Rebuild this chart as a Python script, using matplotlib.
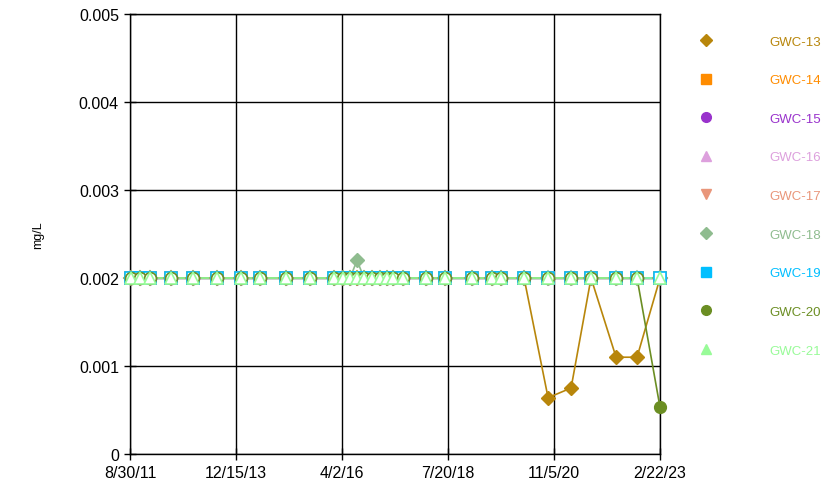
import matplotlib
matplotlib.use("Agg")
import matplotlib.pyplot as plt
from matplotlib.lines import Line2D
import pandas as pd

plt.rcParams['font.family'] = ['Liberation Sans', 'DejaVu Sans']

dates = pd.to_datetime([
    '2011-09-07', '2011-11-17', '2012-02-04', '2012-07-19', '2013-01-10',
    '2013-07-18', '2014-01-24', '2014-06-24', '2015-01-15', '2015-07-24',
    '2016-01-30', '2016-04-10', '2016-06-05', '2016-07-30', '2016-09-24',
    '2016-11-26', '2017-01-28', '2017-03-25', '2017-05-11', '2017-07-29',
    '2018-01-27', '2018-06-27', '2019-01-26', '2019-07-04', '2019-09-13',
    '2020-03-13', '2020-09-19', '2021-03-20', '2021-08-25', '2022-03-11',
    '2022-08-24', '2023-02-22',
])
n = len(dates)
nd = 0.002  # reporting limit (non-detect)

wells = ['GWC-13', 'GWC-14', 'GWC-15', 'GWC-16', 'GWC-17',
         'GWC-18', 'GWC-19', 'GWC-20', 'GWC-21']
colors = ['#B8860B', '#FF8C00', '#9932CC', '#DDA0DD', '#E9967A',
          '#8FBC8F', '#00BFFF', '#6B8E23', '#98FB98']
markers = ['D', 's', 'o', '^', 'v', 'D', 's', 'o', '^']
msizes = [7.5, 8, 8.5, 8.5, 8.5, 7.5, 8, 8.5, 8.5]

# non-detects plotted at the reporting limit
values = {w: [nd] * n for w in wells}
detect = {w: [False] * n for w in wells}
hits = [('GWC-13', 26, 0.00064), ('GWC-13', 27, 0.00075),
        ('GWC-13', 29, 0.0011), ('GWC-13', 30, 0.0011),
        ('GWC-18', 13, 0.0022), ('GWC-20', 31, 0.00053)]
for w, i, v in hits:
    values[w][i] = v
    detect[w][i] = True

fig = plt.figure(figsize=(8.39, 4.89), dpi=100)
ax = fig.add_axes([0.155, 0.0695, 0.6317, 0.8998])

handles = []
for w, c, m, ms in zip(wells, colors, markers, msizes):
    v = values[w]
    ax.plot(dates, v, color=c, lw=1.2, zorder=2)
    dx = [d for d, f in zip(dates, detect[w]) if f]
    dy = [y for y, f in zip(v, detect[w]) if f]
    ux = [d for d, f in zip(dates, detect[w]) if not f]
    uy = [y for y, f in zip(v, detect[w]) if not f]
    ax.plot(ux, uy, ls='none', marker=m, ms=ms, mfc='white', mec=c, mew=1.2,
            zorder=3, clip_on=False)
    ax.plot(dx, dy, ls='none', marker=m, ms=ms, mfc=c, mec=c, zorder=4, clip_on=False)
    handles.append(Line2D([], [], ls='none', marker=m, ms=ms - 1.5, mfc=c, mec=c))

xt = pd.to_datetime(['2011-08-30', '2013-12-15', '2016-04-02',
                     '2018-07-20', '2020-11-05', '2023-02-22'])
xtl = ['8/30/11', '12/15/13', '4/2/16', '7/20/18', '11/5/20', '2/22/23']
ax.set_xlim(xt[0], xt[-1])
ax.set_xticks(xt)
ax.set_xticklabels(xtl)
ax.set_ylim(0, 0.005)
ax.set_yticks([0, 0.001, 0.002, 0.003, 0.004, 0.005])
ax.set_yticklabels(['0', '0.001', '0.002', '0.003', '0.004', '0.005'])
ax.tick_params(direction='inout', length=9, width=1, labelsize=11.5, colors='black')
ax.grid(True, color='black', lw=1)
ax.set_axisbelow(True)
for s in ax.spines.values():
    s.set_linewidth(1)

ax.set_ylabel('mg/L', fontsize=9, labelpad=25)

leg = fig.legend(handles, wells, loc='upper left', bbox_to_anchor=(0.82, 0.95),
                 frameon=False, fontsize=9.5, handlelength=1, handletextpad=4.3,
                 labelspacing=2.0, labelcolor=colors)

fig.savefig('out.png', dpi=100)
